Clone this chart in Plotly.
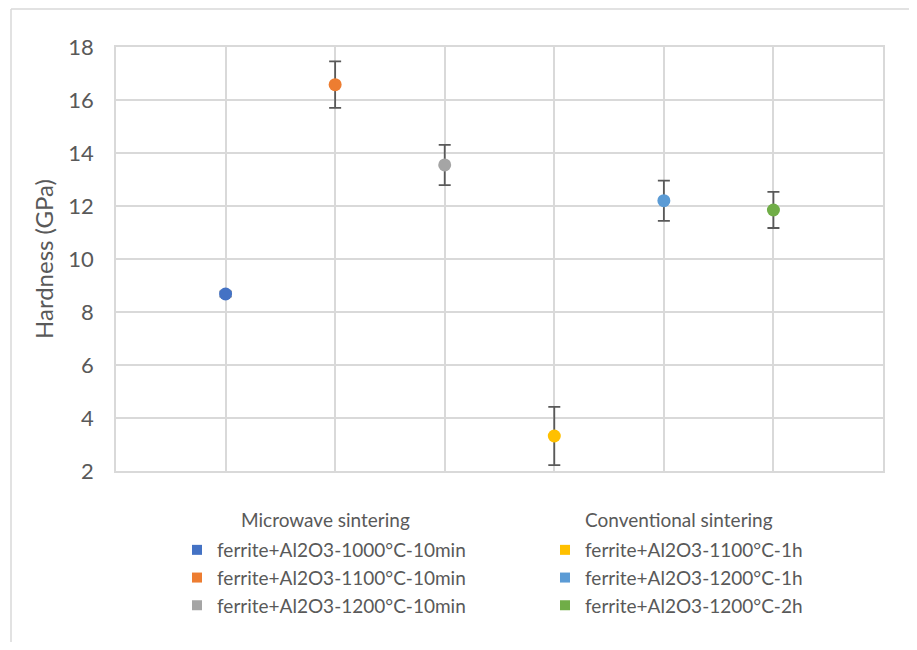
import plotly.graph_objects as go

# Data
labels = [
    "ferrite+Al2O3-1000°C-10min",
    "ferrite+Al2O3-1100°C-10min",
    "ferrite+Al2O3-1200°C-10min",
    "ferrite+Al2O3-1100°C-1h",
    "ferrite+Al2O3-1200°C-1h",
    "ferrite+Al2O3-1200°C-2h",
]
group_titles = ["Microwave sintering", "Conventional sintering"]
x_pos = [1, 2, 3, 4, 5, 6]
hardness = [8.68, 16.58, 13.55, 3.32, 12.20, 11.85]
errors = [0.10, 0.88, 0.76, 1.10, 0.76, 0.68]
colors = ["#4472C4", "#ED7D31", "#A5A5A5", "#FFC000", "#5B9BD5", "#70AD47"]
y_ticks = [2, 4, 6, 8, 10, 12, 14, 16, 18]

FONT = "Lato, 'Open Sans', sans-serif"
GRID = "#d9d9d9"
TXT = "#595959"

fig = go.Figure()

for i in range(len(labels)):
    fig.add_trace(go.Scatter(
        x=[x_pos[i]], y=[hardness[i]], mode="markers",
        marker=dict(color=colors[i], size=13, symbol="circle"),
        error_y=dict(type="data", array=[errors[i]], visible=True,
                     color="#595959", thickness=1.8, width=6),
        showlegend=False,
    ))

for i in range(len(labels)):
    fig.add_trace(go.Scatter(
        x=[None], y=[None], mode="markers",
        marker=dict(color=colors[i], size=10, symbol="square"),
        name=labels[i],
        legend="legend" if i < 3 else "legend2",
        legendgroup=f"g{i}",
    ))

# page offset from body margin
OFF = 8
W, H = 917 - 2 * OFF, 650 - 2 * OFF
L, R, T, B = 116 - OFF, 883 - OFF, 47 - OFF, 471 - OFF
pw, ph = R - L, B - T

def px_x(x):
    return (x - OFF - L) / pw

def px_y(y):
    return (B - (y - OFF)) / ph

legend_common = dict(
    font=dict(family=FONT, size=19, color=TXT),
    bgcolor="rgba(0,0,0,0)",
    tracegroupgap=0,
    itemwidth=30,
    xanchor="left", yanchor="top",
)

fig.update_layout(
    width=W, height=H,
    margin=dict(l=L, r=W - R, t=T, b=H - B),
    paper_bgcolor="white", plot_bgcolor="white",
    font=dict(family=FONT, color=TXT),
    xaxis=dict(range=[0, 7], tickvals=x_pos, showticklabels=False,
               showgrid=True, gridcolor=GRID, gridwidth=1.5,
               showline=True, linecolor=GRID, linewidth=1.5, mirror=True,
               zeroline=False, ticks=""),
    yaxis=dict(range=[2, 18], tickvals=y_ticks,
               showgrid=True, gridcolor=GRID, gridwidth=1.5,
               showline=True, linecolor=GRID, linewidth=1.5, mirror=True,
               zeroline=False, ticks="",
               tickfont=dict(family=FONT, size=22, color=TXT),
               ticklabelstandoff=16,
               title=dict(text="Hardness (GPa)", standoff=8,
                          font=dict(family=FONT, size=24, color=TXT))),
    legend=dict(**legend_common, x=px_x(177), y=px_y(531)),
    legend2=dict(**legend_common, x=px_x(545), y=px_y(531)),
    annotations=[
        dict(text=group_titles[0], xref="paper", yref="paper",
             x=px_x(325), y=px_y(519), showarrow=False,
             xanchor="center", yanchor="middle",
             font=dict(family=FONT, size=19, color=TXT)),
        dict(text=group_titles[1], xref="paper", yref="paper",
             x=px_x(679), y=px_y(519), showarrow=False,
             xanchor="center", yanchor="middle",
             font=dict(family=FONT, size=19, color=TXT)),
    ],
    shapes=[
        dict(type="line", xref="paper", yref="paper",
             x0=px_x(11), x1=px_x(930), y0=px_y(9), y1=px_y(9),
             line=dict(color="#d9d9d9", width=1.5)),
        dict(type="line", xref="paper", yref="paper",
             x0=px_x(11), x1=px_x(11), y0=px_y(9), y1=px_y(660),
             line=dict(color="#d9d9d9", width=1.5)),
    ],
)

fig.write_html("out.html")
